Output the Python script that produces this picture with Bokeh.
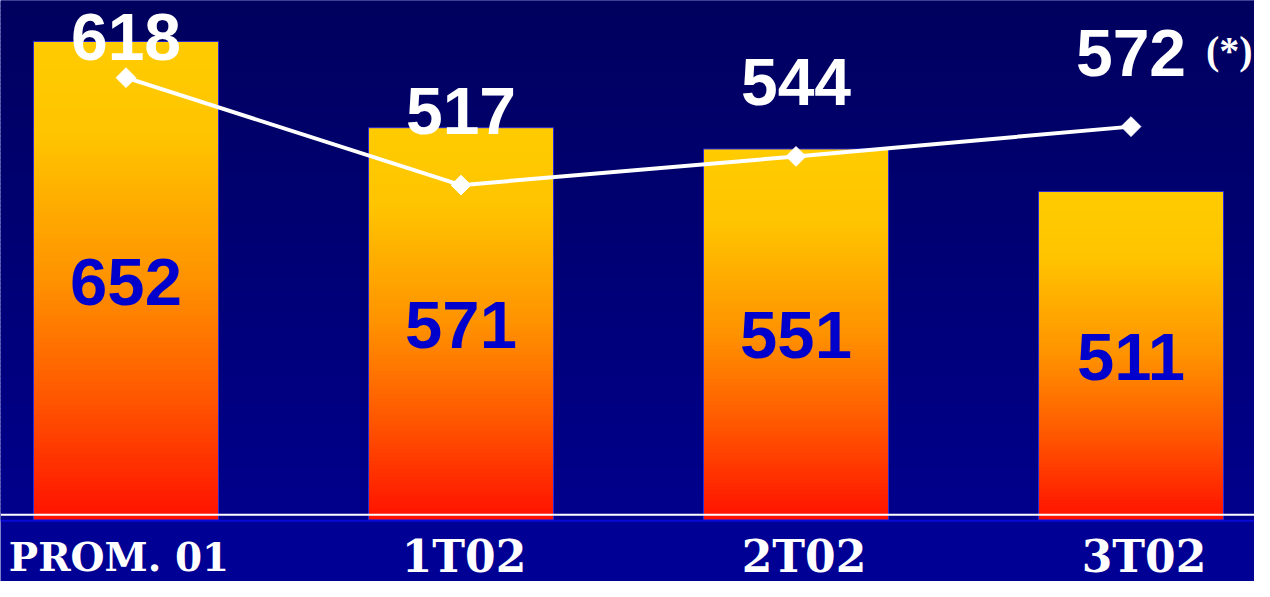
import numpy as np
from bokeh.plotting import figure
from bokeh.models import Range1d, ColumnDataSource, Span
from bokeh.core.properties import value
from bokeh.embed import file_html
from bokeh.resources import INLINE

# ---------------- data ----------------
categories = ["PROM. 01", "1T02", "2T02", "3T02"]
bar_values = [652, 571, 551, 511]
line_values = [618, 517, 544, 572]
note_label = "(*)"

# ---------------- layout ----------------
W, H = 1254, 581
K = 1.064            # pixels per value unit
X0_IMG = 125.5       # x of first category centre
STEP = 335.0         # pixels between categories
TOP_IMG = 41         # y of tallest bar top
BAR_W = 185.0 / STEP

Y1 = max(bar_values) + TOP_IMG / K


def v_of(img_y):
    return Y1 - img_y / K


Y0 = v_of(H)
BASE = v_of(519.5)
XS = X0_IMG / STEP
x_start, x_end = -XS, (W / STEP) - XS

p = figure(width=W, height=H, x_range=Range1d(x_start, x_end), y_range=Range1d(Y0, Y1),
           output_backend="svg", toolbar_location=None, min_border=0,
           background_fill_color="#000094", border_fill_color="#000094",
           outline_line_color=None, x_axis_location=None, y_axis_location=None)
p.grid.visible = False


def lerp_stops(stops, t):
    for (t0, c0), (t1, c1) in zip(stops[:-1], stops[1:]):
        if t <= t1:
            f = 0 if t1 == t0 else (t - t0) / (t1 - t0)
            return tuple(int(round(a + (b - a) * f)) for a, b in zip(c0, c1))
    return stops[-1][1]


def hexc(c):
    return "#%02x%02x%02x" % c


OVL = 1.5  # overlap between gradient strips (value units)

# background gradient
bg_stops = [(0.0, (0, 0, 0x5E)), (1.0, (0, 0, 0x8C))]
n_bg = 120
edges = np.linspace(v_of(519.5), Y1, n_bg + 1)
bg = dict(bottom=[], top=[], color=[])
for j in range(n_bg):
    b, t = edges[j], edges[j + 1]
    tt = 1 - (0.5 * (b + t) - edges[0]) / (edges[-1] - edges[0])
    bg["bottom"].append(b)
    bg["top"].append(t + OVL)
    bg["color"].append(hexc(lerp_stops(bg_stops, tt)))
p.quad(left=x_start, right=x_end, bottom="bottom", top="top", fill_color="color",
       line_color=None, source=ColumnDataSource(bg))

# gradient bars
bar_stops = [(0.0, (255, 204, 0)), (0.2, (255, 196, 0)), (0.5, (255, 146, 0)),
             (0.75, (255, 85, 0)), (1.0, (255, 16, 0))]
n_bar = 100
bars = dict(left=[], right=[], bottom=[], top=[], color=[])
for i, v in enumerate(bar_values):
    e = np.linspace(BASE, v, n_bar + 1)
    for j in range(n_bar):
        b, t = e[j], e[j + 1]
        tt = 1 - (0.5 * (b + t) - BASE) / (v - BASE)
        bars["left"].append(i - BAR_W / 2)
        bars["right"].append(i + BAR_W / 2)
        bars["bottom"].append(b)
        bars["top"].append(min(t + OVL, v))
        bars["color"].append(hexc(lerp_stops(bar_stops, tt)))
p.quad(left="left", right="right", bottom="bottom", top="top", fill_color="color",
       line_color=None, source=ColumnDataSource(bars))

xs = list(range(len(categories)))
p.quad(left=[x - BAR_W / 2 for x in xs], right=[x + BAR_W / 2 for x in xs],
       bottom=BASE, top=bar_values, fill_color=None, line_color="#2a2ad6", line_width=1)

# base lines
p.add_layout(Span(location=v_of(514.3), dimension="width", line_color="white", line_width=2))
p.add_layout(Span(location=v_of(520.2), dimension="width", line_color="#0a0ad8", line_width=2))

# line series
p.line(xs, line_values, line_color="white", line_width=4)
p.scatter(xs, line_values, marker="square", size=14, angle=np.pi / 4,
          fill_color="white", line_color="white")

# line value labels (white)
label_dy = [-41, -74, -74, -74]
p.text(x=xs, y=line_values, text=[str(v) for v in line_values], y_offset=label_dy,
       text_color="white", text_font=value("Liberation Sans"), text_font_style="bold",
       text_font_size="66px", text_align="center", text_baseline="middle")

# note
p.text(x=[xs[-1]], y=[line_values[-1]], text=[note_label], x_offset=75, y_offset=-76,
       text_color="white", text_font=value("Liberation Serif"), text_font_style="bold",
       text_font_size="40px", text_align="left", text_baseline="middle")

# bar value labels (blue, inside bars)
p.text(x=xs, y=[(BASE + v) / 2 for v in bar_values], text=[str(v) for v in bar_values],
       y_offset=1,
       text_color="#0000cc", text_font=value("Liberation Sans"), text_font_style="bold",
       text_font_size="67px", text_align="center", text_baseline="middle")

# category labels
cat_dx = [-7, 3, 8, 13]
cat_size = ["39px", "44px", "44px", "44px"]
p.text(x=xs, y=v_of(556), text=categories, x_offset=cat_dx,
       text_color="white", text_font=value("DejaVu Serif"), text_font_style="bold",
       text_font_size=cat_size, text_align="center", text_baseline="middle")

open("out.html", "w").write(file_html(p, INLINE))
